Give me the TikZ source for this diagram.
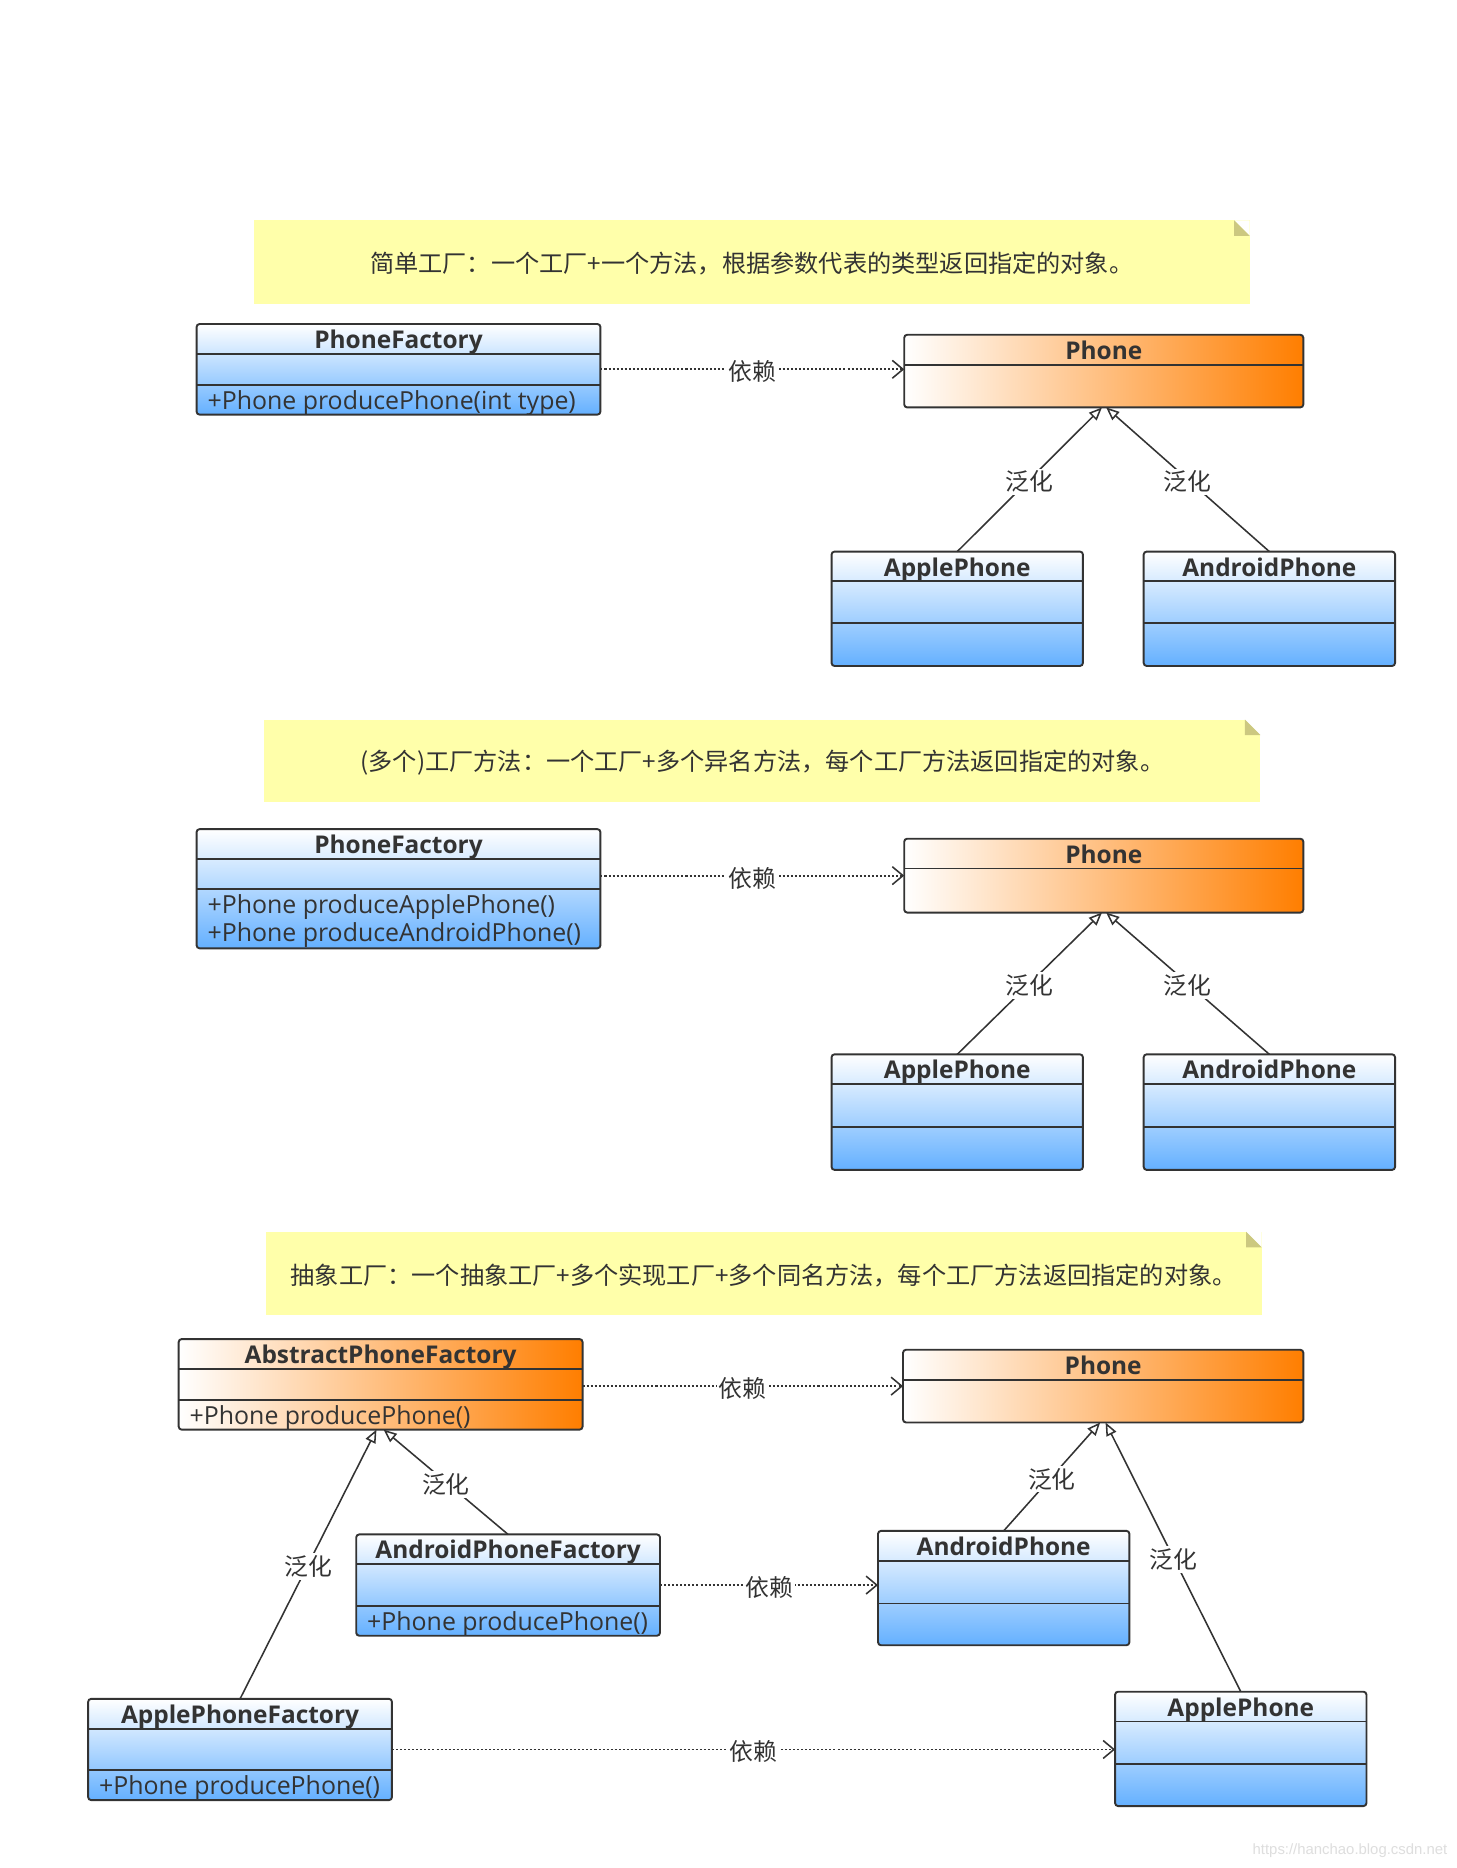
\documentclass[tikz,border=0pt]{standalone}
\usepackage{fontspec}
\setmainfont{Open Sans}
\newfontfamily\cjk{Noto Sans CJK SC}
\newfontfamily\wmfont{Liberation Sans}
\usetikzlibrary{arrows.meta,calc}
\definecolor{ink}{RGB}{51,51,51}
\definecolor{umlblue}{RGB}{100,176,255}
\definecolor{umlorange}{RGB}{255,126,0}
\definecolor{noteyellow}{RGB}{255,255,170}
\definecolor{noteear}{RGB}{204,200,128}
\tikzset{
  classbox/.style={draw=ink, line width=1.6pt, rounded corners=2.5pt, inner sep=0pt, outer sep=0pt},
  bluebox/.style={classbox, top color=white, bottom color=umlblue},
  orangebox/.style={classbox, left color=white, right color=umlorange},
  sepline/.style={draw=ink, line width=1.6pt},
  titletext/.style={font=\fontsize{20.5}{24}\selectfont\bfseries, text=ink, inner sep=0pt,
    text height=14.6pt, text depth=0pt},
  methodtext/.style={font=\fontsize{20.9}{24}\selectfont, text=ink, inner sep=0pt, anchor=west,
    text height=14.9pt, text depth=0pt},
  depline/.style={draw=ink, line width=1.6pt, dash pattern=on 1.7pt off 1.7pt,
    -{Straight Barb[length=9pt,width=15pt,line width=1.3pt]}},
  genline/.style={draw=ink, line width=1.3pt,
    -{Triangle[open,length=11pt,width=9pt,line width=1.3pt,fill=white]}},
  rellabel/.style={font=\cjk\fontsize{20}{24}\selectfont, text=ink, fill=white, inner sep=2pt,
    yshift=-2pt},
  note/.style={fill=noteyellow, inner sep=0pt, outer sep=0pt},
  notetext/.style={text=ink, inner sep=0pt, font=\cjk\fontsize{20.3}{24}\selectfont, yshift=-1.5pt},
}
% #1 name, #2 style, #3 x1, #4 y1, #5 x2, #6 y2, #7 header bottom y, #8 second separator y, #9 title
\newcommand{\umlclass}[9]{%
  \node[#2, minimum width={(#5)-(#3)}, minimum height={(#6)-(#4)}] (#1)
    at ({((#3)+(#5))/2},{((#4)+(#6))/2}) {};
  \draw[sepline] (#3,#7) -- (#5,#7);
  \draw[sepline] (#3,#8) -- (#5,#8);
  \node[titletext] (#1-title) at ({((#3)+(#5))/2},{((#4)+(#7))/2+0.8}) {#9};
}
\newcommand{\notebox}[6]{% #1 name, #2 x1, #3 y1, #4 x2, #5 y2, #6 text
  \node[note, minimum width={(#4)-(#2)}, minimum height={(#5)-(#3)}] (#1)
    at ({((#2)+(#4))/2},{((#3)+(#5))/2}) {};
  \fill[white] (#1.north east) -- ++(-13,0) -- ++(13,13) -- cycle;
  \fill[noteear] (#1.north east) ++(-13,0) -- ++(13,13) -- ++(-13,0) -- cycle;
  \node[notetext] (#1-text) at (#1.center) {#6};
}
\begin{document}
\begin{tikzpicture}[x=1pt,y=-1pt]
\fill[white] (0,0) rectangle (1223,1568);
\useasboundingbox (0,0) rectangle (1223,1568);

% ---------------- Section 1 ----------------
\notebox{n1}{213}{185}{1049}{255}{简单工厂：一个工厂+一个方法，根据参数代表的类型返回指定的对象。}
\umlclass{pfA}{bluebox}{165}{272}{504}{348}{297}{323}{PhoneFactory}
\node[methodtext] (pfA-m1) at (174,336) {+Phone producePhone(int type)};
\umlclass{phA}{orangebox}{759}{281}{1094}{342}{306}{306}{Phone}
\umlclass{apA}{bluebox}{698}{463}{909}{559}{488}{523}{ApplePhone}
\umlclass{anA}{bluebox}{960}{463}{1171}{559}{488}{523}{AndroidPhone}
\draw[depline] (pfA.east) -- (pfA.east -| phA.west) node[midway, rellabel] {依赖};
\draw[genline] (apA.north) -- ($(phA.south)+(-1.5,0)$) node[midway, rellabel] {泛化};
\draw[genline] (anA.north) -- ($(phA.south)+(2,0)$) node[midway, rellabel] {泛化};

% ---------------- Section 2 ----------------
\notebox{n2}{222}{604}{1058}{673}{(多个)工厂方法：一个工厂+多个异名方法，每个工厂方法返回指定的对象。}
\umlclass{pfB}{bluebox}{165}{696}{504}{796}{721}{746}{PhoneFactory}
\node[methodtext] (pfB-m1) at (174,759) {+Phone produceApplePhone()};
\node[methodtext] (pfB-m2) at (174,783) {+Phone produceAndroidPhone()};
\umlclass{phB}{orangebox}{759}{704}{1094}{766}{729}{729}{Phone}
\umlclass{apB}{bluebox}{698}{885}{909}{982}{910}{946}{ApplePhone}
\umlclass{anB}{bluebox}{960}{885}{1171}{982}{910}{946}{AndroidPhone}
\draw[depline] (phB.west -| pfB.east) -- (phB.west) node[midway, rellabel] {依赖};
\draw[genline] (apB.north) -- ($(phB.south)+(-1.5,0)$) node[midway, rellabel] {泛化};
\draw[genline] (anB.north) -- ($(phB.south)+(2,0)$) node[midway, rellabel] {泛化};

% ---------------- Section 3 ----------------
\notebox{n3}{223}{1034}{1059}{1104}{抽象工厂：一个抽象工厂+多个实现工厂+多个同名方法，每个工厂方法返回指定的对象。}
\umlclass{abs}{orangebox}{150}{1124}{489}{1200}{1149}{1175}{AbstractPhoneFactory}
\node[methodtext] (abs-m1) at (159,1188) {+Phone producePhone()};
\umlclass{phC}{orangebox}{758}{1133}{1094}{1194}{1158}{1158}{Phone}
\umlclass{anF}{bluebox}{299}{1288}{554}{1373}{1313}{1348}{AndroidPhoneFactory}
\node[methodtext] (anF-m1) at (308,1361) {+Phone producePhone()};
\umlclass{apF}{bluebox}{74}{1426}{329}{1511}{1451}{1486}{ApplePhoneFactory}
\node[methodtext] (apF-m1) at (83,1499) {+Phone producePhone()};
\umlclass{anC}{bluebox}{737}{1285}{948}{1381}{1310}{1346}{AndroidPhone}
\umlclass{apC}{bluebox}{936}{1420}{1147}{1516}{1445}{1481}{ApplePhone}
\draw[depline] (phC.west -| abs.east) -- (phC.west) node[midway, rellabel] {依赖};
\draw[depline] (anF.east) -- (anF.east -| anC.west) node[midway, rellabel] {依赖};
\draw[depline] (apF.east) -- (apF.east -| apC.west) node[midway, rellabel] {依赖};
\draw[genline] (apF.north) -- ($(abs.south)+(-3.5,0)$) node[midway, rellabel] {泛化};
\draw[genline] (anF.north) -- ($(abs.south)+(2.5,0)$) node[midway, rellabel] {泛化};
\draw[genline] (anC.north) -- ($(phC.south)+(-2.5,0)$) node[midway, rellabel] {泛化};
\draw[genline] (apC.north) -- ($(phC.south)+(2,0)$) node[midway, rellabel] {泛化};

\node[font=\wmfont\fontsize{12.5}{14}\selectfont, text=black!13, anchor=east, inner sep=0pt] (wm)
  at (1215,1553) {https://hanchao.blog.csdn.net};
\end{tikzpicture}
\end{document}
